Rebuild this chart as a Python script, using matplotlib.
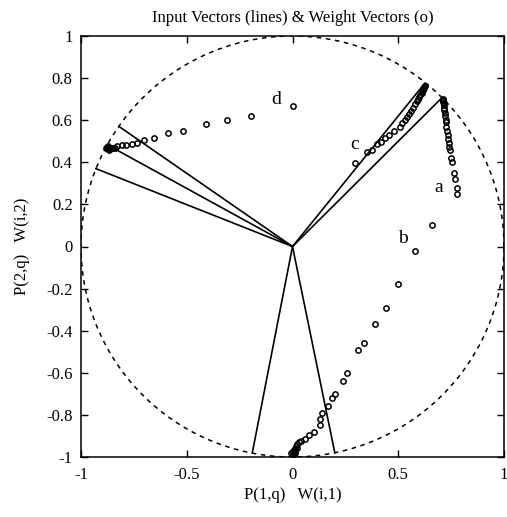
import matplotlib
matplotlib.use('Agg')
import matplotlib.pyplot as plt
import numpy as np

plt.rcParams['font.family'] = ['Liberation Serif', 'DejaVu Serif']

# input vectors (end points of the lines from the origin)
p_x = [0.625, 0.707, -0.82, -0.87, -0.93, -0.19, 0.20]
p_y = [0.775, 0.707, 0.57, 0.48, 0.37, -0.98, -0.98]

# weight vector paths
a_x = [0.78, 0.78, 0.77, 0.765, 0.755, 0.75, 0.745, 0.74, 0.738, 0.735, 0.733,
       0.73, 0.728, 0.726, 0.724, 0.722, 0.72, 0.718, 0.716, 0.715, 0.714,
       0.713, 0.712, 0.711, 0.711]
a_y = [0.25, 0.28, 0.32, 0.35, 0.40, 0.42, 0.46, 0.475, 0.49, 0.51, 0.53,
       0.55, 0.57, 0.59, 0.60, 0.62, 0.635, 0.65, 0.66, 0.67, 0.68,
       0.688, 0.694, 0.698, 0.70]

b_x = [0.66, 0.58, 0.50, 0.44, 0.39, 0.34, 0.31, 0.26, 0.24, 0.20, 0.185,
       0.17, 0.14, 0.13, 0.13, 0.10, 0.08, 0.06, 0.04, 0.03, 0.02, 0.015,
       0.01, 0.0, 0.005, -0.005, 0.0, 0.01, 0.02, 0.0, 0.005, 0.01]
b_y = [0.10, -0.02, -0.18, -0.29, -0.37, -0.46, -0.49, -0.60, -0.64, -0.70,
       -0.72, -0.76, -0.79, -0.82, -0.85, -0.88, -0.895, -0.915, -0.925,
       -0.93, -0.94, -0.95, -0.96, -0.97, -0.975, -0.98, -0.985, -0.97,
       -0.955, -0.99, -0.965, -0.98]

c_x = [0.295, 0.35, 0.375, 0.40, 0.42, 0.435, 0.455, 0.48, 0.51, 0.52,
       0.53, 0.54, 0.55, 0.56, 0.57, 0.58, 0.59, 0.595, 0.60, 0.605, 0.61,
       0.613, 0.616, 0.619, 0.621, 0.623, 0.625]
c_y = [0.395, 0.45, 0.46, 0.485, 0.495, 0.515, 0.53, 0.55, 0.57, 0.585,
       0.60, 0.615, 0.63, 0.645, 0.66, 0.675, 0.69, 0.70, 0.71, 0.72, 0.728,
       0.735, 0.742, 0.748, 0.753, 0.758, 0.762]

d_x = [0.0, -0.195, -0.31, -0.41, -0.52, -0.59, -0.655, -0.70, -0.735,
       -0.76, -0.785, -0.805, -0.83, -0.84, -0.85, -0.86, -0.865, -0.87,
       -0.875, -0.88, -0.878, -0.872, -0.868]
d_y = [0.667, 0.62, 0.60, 0.58, 0.55, 0.54, 0.515, 0.505, 0.49, 0.485,
       0.48, 0.48, 0.476, 0.47, 0.468, 0.466, 0.47, 0.465, 0.47, 0.468,
       0.475, 0.478, 0.46]

labels = ['a', 'b', 'c', 'd']
label_x = [0.69, 0.52, 0.295, -0.075]
label_y = [0.28, 0.04, 0.485, 0.70]

fig = plt.figure(figsize=(5.07, 5.17), dpi=100)
ax = fig.add_axes([81 / 507, 60 / 517, 423 / 507, 421 / 517])

t = np.linspace(0, 2 * np.pi, 400)
ax.plot(np.cos(t), np.sin(t), color='k', lw=1.1, ls=(0, (3, 3)))

for x, y in zip(p_x, p_y):
    ax.plot([0, x], [0, y], 'k-', lw=1.2)

for wx, wy in [(a_x, a_y), (b_x, b_y), (c_x, c_y), (d_x, d_y)]:
    ax.plot(wx, wy, 'o', mfc='none', mec='k', ms=3.8, mew=1.1)

for s, x, y in zip(labels, label_x, label_y):
    ax.text(x, y, s, fontsize=14, ha='center', va='center')

ax.set_xlim(-1, 1)
ax.set_ylim(-1, 1)
ax.set_xticks([-1, -0.5, 0, 0.5, 1])
ax.set_xticklabels(['-1', '-0.5', '0', '0.5', '1'])
yt = [-1, -0.8, -0.6, -0.4, -0.2, 0, 0.2, 0.4, 0.6, 0.8, 1]
ax.set_yticks(yt)
ax.set_yticklabels(['-1', '-0.8', '-0.6', '-0.4', '-0.2', '0', '0.2', '0.4',
                    '0.6', '0.8', '1'])
ax.tick_params(direction='in', top=True, right=True, length=5, width=1,
               labelsize=12, pad=6)
ax.tick_params(axis='x', pad=7)
for sp in ax.spines.values():
    sp.set_linewidth(1.1)

ax.set_title('Input Vectors (lines) & Weight Vectors (o)', fontsize=12, pad=10)
ax.set_xlabel('P(1,q)   W(i,1)', fontsize=12, labelpad=3)
ax.set_ylabel('P(2,q)   W(i,2)', fontsize=12, labelpad=12)

fig.savefig('out.png', dpi=100)
